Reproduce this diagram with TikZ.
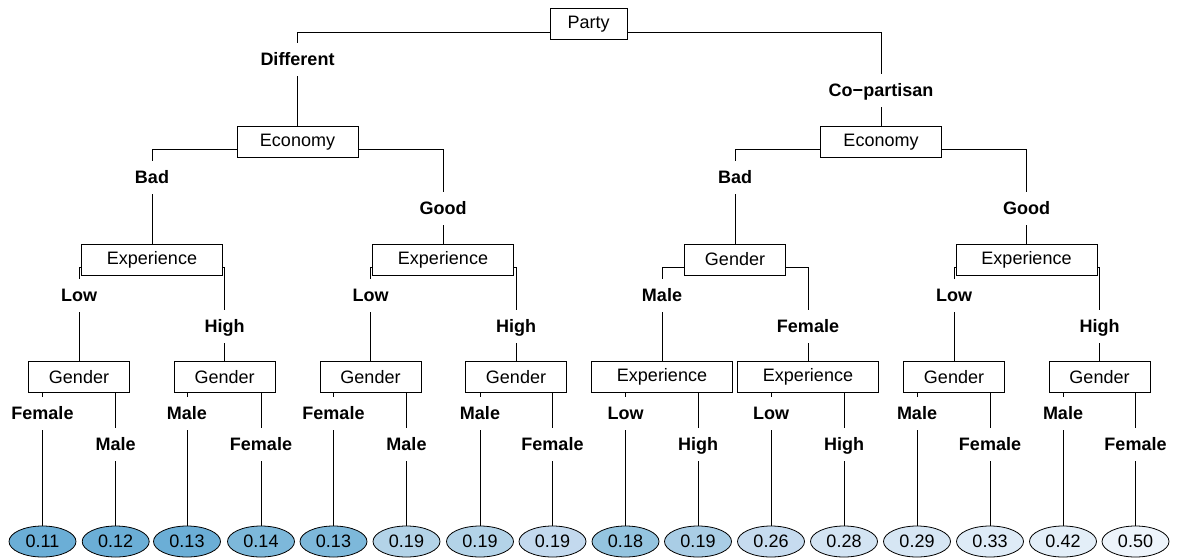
\documentclass[tikz,border=0pt]{standalone}
\usepackage{fontspec}
\setmainfont{Liberation Sans}
\usetikzlibrary{shapes.geometric,backgrounds}
\definecolor{fa}{HTML}{6BAED6}
\definecolor{fb}{HTML}{7DB8DA}
\definecolor{fc}{HTML}{B3D3E8}
\definecolor{fd}{HTML}{C3D9EE}
\definecolor{fe}{HTML}{94C4DF}
\definecolor{ff}{HTML}{A9CDE5}
\definecolor{fg}{HTML}{C6DBEF}
\definecolor{fh}{HTML}{D3E4F3}
\definecolor{fi}{HTML}{D6E6F4}
\definecolor{fj}{HTML}{DEEBF7}
\definecolor{fk}{HTML}{E3EEF8}
\definecolor{fl}{HTML}{EDF4FB}
\begin{document}
\begin{tikzpicture}[x=0.75pt,y=-0.75pt,
  every node/.style={font=\fontsize{13.5}{16}\selectfont},
  inner/.style={draw=black, fill=white, line width=0.6pt, minimum height=23.25pt, inner sep=0pt},
  wparty/.style={inner, minimum width=57.75pt},
  weco/.style={inner, minimum width=90.75pt},
  wexp/.style={inner, minimum width=105.75pt},
  wgen/.style={inner, minimum width=75.75pt},
  lab/.style={fill=white, inner xsep=1pt, inner ysep=0pt, text height=9.7pt, text depth=0pt, minimum height=24.75pt, font=\fontsize{13.5}{16}\selectfont\bfseries},
  leaf/.style={ellipse, draw=black, line width=0.6pt, minimum width=50.25pt, minimum height=23.25pt, inner sep=0pt},
  edge/.style={draw=black, line width=0.6pt}]
\useasboundingbox (0,0) rectangle (1178,558);
% inner nodes
\node[wparty] (P) at (588.5,24) {Party};
\node[weco] (E1) at (297.5,141.7) {Economy};
\node[weco] (E2) at (881,141.7) {Economy};
\node[wexp] (X1) at (152,259.5) {Experience};
\node[wexp] (X2) at (443,259.5) {Experience};
\node[wgen] (G0) at (735,259.5) {Gender};
\node[wexp] (X3) at (1026.5,259.5) {Experience};
\node[wgen] (G1) at (79,377) {Gender};
\node[wgen] (G2) at (224.6,377) {Gender};
\node[wgen] (G3) at (370.5,377) {Gender};
\node[wgen] (G4) at (516,377) {Gender};
\node[wexp] (X4) at (662,377) {Experience};
\node[wexp] (X5) at (808,377) {Experience};
\node[wgen] (G5) at (954,377) {Gender};
\node[wgen] (G6) at (1099.5,377) {Gender};
% leaves
\node[leaf, fill=fa] (L1) at (42.5,541.5) {0.11};
\node[leaf, fill=fa] (L2) at (115.7,541.5) {0.12};
\node[leaf, fill=fa] (L3) at (187,541.5) {0.13};
\node[leaf, fill=fb] (L4) at (261,541.5) {0.14};
\node[leaf, fill=fb] (L5) at (333.5,541.5) {0.13};
\node[leaf, fill=fc] (L6) at (406.5,541.5) {0.19};
\node[leaf, fill=fc] (L7) at (480,541.5) {0.19};
\node[leaf, fill=fd] (L8) at (552.5,541.5) {0.19};
\node[leaf, fill=fe] (L9) at (625.5,541.5) {0.18};
\node[leaf, fill=ff] (L10) at (698,541.5) {0.19};
\node[leaf, fill=fg] (L11) at (771,541.5) {0.26};
\node[leaf, fill=fh] (L12) at (844,541.5) {0.28};
\node[leaf, fill=fi] (L13) at (917,541.5) {0.29};
\node[leaf, fill=fj] (L14) at (990,541.5) {0.33};
\node[leaf, fill=fk] (L15) at (1063,541.5) {0.42};
\node[leaf, fill=fl] (L16) at (1135.5,541.5) {0.50};
% edges
\begin{pgfonlayer}{background}
\fill[white] (0,0) rectangle (1178,558);
\foreach \p/\c in {P/E1,P/E2,E1/X1,E1/X2,E2/G0,E2/X3,X1/G1,X1/G2,X2/G3,X2/G4,G0/X4,G0/X5,X3/G5,X3/G6,
  G1/L1,G1/L2,G2/L3,G2/L4,G3/L5,G3/L6,G4/L7,G4/L8,X4/L9,X4/L10,X5/L11,X5/L12,G5/L13,G5/L14,G6/L15,G6/L16}
  \draw[edge] ([yshift=-6pt]\p.center) -| (\c.north);
\end{pgfonlayer}
% edge labels
\node[lab] (a1) at (297.5,59.5) {Different};
\node[lab] (a2) at (881,90.5) {Co−partisan};
\node[lab] (b1) at (152,177) {Bad};
\node[lab] (b2) at (443,208.5) {Good};
\node[lab] (b3) at (735,177) {Bad};
\node[lab] (b4) at (1026.5,208.5) {Good};
\node[lab] (c1) at (79,295.5) {Low};
\node[lab] (c2) at (224.6,326.5) {High};
\node[lab] (c3) at (370.5,295.5) {Low};
\node[lab] (c4) at (516,326.5) {High};
\node[lab] (c5) at (662,295.5) {Male};
\node[lab] (c6) at (808,326.5) {Female};
\node[lab] (c7) at (954,295.5) {Low};
\node[lab] (c8) at (1099.5,326.5) {High};
\node[lab] (d1) at (42.5,413.5) {Female};
\node[lab] (d2) at (115.7,444) {Male};
\node[lab] (d3) at (187,413.5) {Male};
\node[lab] (d4) at (261,444) {Female};
\node[lab] (d5) at (333.5,413.5) {Female};
\node[lab] (d6) at (406.5,444) {Male};
\node[lab] (d7) at (480,413.5) {Male};
\node[lab] (d8) at (552.5,444) {Female};
\node[lab] (d9) at (625.5,413.5) {Low};
\node[lab] (d10) at (698,444) {High};
\node[lab] (d11) at (771,413.5) {Low};
\node[lab] (d12) at (844,444) {High};
\node[lab] (d13) at (917,413.5) {Male};
\node[lab] (d14) at (990,444) {Female};
\node[lab] (d15) at (1063,413.5) {Male};
\node[lab] (d16) at (1135.5,444) {Female};
\end{tikzpicture}
\end{document}
